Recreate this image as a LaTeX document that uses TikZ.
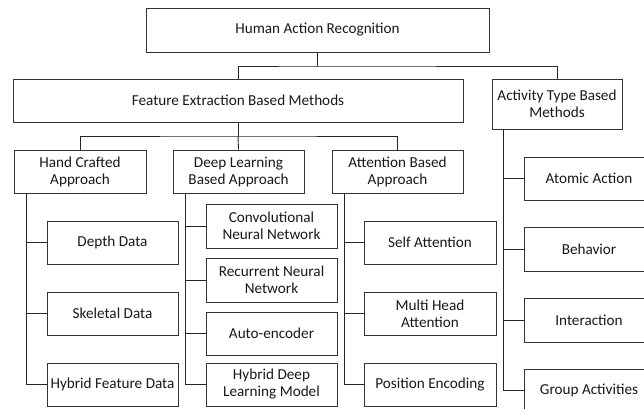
\documentclass[tikz,border=0pt]{standalone}
\usepackage{fontspec}
\setmainfont{Carlito}
\begin{document}
\begin{tikzpicture}[x=1pt,y=-1pt,
  box/.style={draw=black!80, line width=0.9pt, text=black!90, align=center,
    inner sep=0pt, font=\fontsize{15.2}{17}\selectfont},
  conn/.style={draw=black!85, line width=0.9pt}]
\useasboundingbox (0,0) rectangle (644,408);
\clip (0,0) rectangle (644,408);
\fill[white] (0,0) rectangle (644,408);
% level 0
\node[box, minimum width=343pt, minimum height=44pt] (har) at (317.5,30) {Human Action Recognition};
% level 1
\node[box, minimum width=450pt, minimum height=43pt] (fe) at (238,100.5) {Feature Extraction Based Methods};
\node[box, minimum width=130pt, minimum height=50pt] (at) at (557,104) {Activity Type Based\\Methods};
% level 2
\node[box, minimum width=132pt, minimum height=43pt] (hc) at (80,171.5) {Hand Crafted\\Approach};
\node[box, minimum width=131pt, minimum height=43pt] (dl) at (238.5,171.5) {Deep Learning\\Based Approach};
\node[box, minimum width=131pt, minimum height=43pt] (ab) at (397.5,171.5) {Attention Based\\Approach};
% hand crafted children
\node[box, minimum width=131pt, minimum height=43pt] (depth) at (112.5,242.5) {Depth Data};
\node[box, minimum width=131pt, minimum height=43pt] (skel) at (112.5,313.5) {Skeletal Data};
\node[box, minimum width=131pt, minimum height=43pt] (hfd) at (112.5,384.5) {Hybrid Feature Data};
% deep learning children
\node[box, minimum width=131pt, minimum height=44pt] (cnn) at (271.5,226) {Convolutional\\Neural Network};
\node[box, minimum width=131pt, minimum height=44pt] (rnn) at (271.5,280) {Recurrent Neural\\Network};
\node[box, minimum width=131pt, minimum height=43pt] (ae) at (271.5,333.5) {Auto-encoder};
\node[box, minimum width=131pt, minimum height=43pt] (hdl) at (271.5,384.5) {Hybrid Deep\\Learning Model};
% attention children
\node[box, minimum width=132pt, minimum height=43pt] (self) at (430,242.5) {Self Attention};
\node[box, minimum width=132pt, minimum height=43pt] (mha) at (430,313.5) {Multi Head\\Attention};
\node[box, minimum width=132pt, minimum height=43pt] (pe) at (430,384.5) {Position Encoding};
% activity children
\node[box, minimum width=130pt, minimum height=43pt] (atom) at (589,178.5) {Atomic Action};
\node[box, minimum width=130pt, minimum height=44pt] (beh) at (589,249) {Behavior};
\node[box, minimum width=130pt, minimum height=44pt] (inter) at (589,320) {Interaction};
\node[box, minimum width=130pt, minimum height=43pt] (grp) at (589,390.5) {Group Activities};
% connectors
\coordinate (j1) at (317.5,66);
\coordinate (j2) at (238,136);
\draw[conn] (har.south) -- (j1);
\draw[conn] (fe.north) |- (j1) -| (at.north);
\draw[conn] (fe.south) -- (j2);
\draw[conn] (hc.north) |- (j2) -| (ab.north);
\draw[conn] (j2) -- (dl.north);
\coordinate (hcs) at ([xshift=13pt]hc.south west);
\coordinate (dls) at ([xshift=13pt]dl.south west);
\coordinate (abs) at ([xshift=13pt]ab.south west);
\coordinate (ats) at ([xshift=12pt]at.south west);
\draw[conn] (hcs) |- (hfd.west);
\draw[conn] (hcs) |- (depth.west);
\draw[conn] (hcs) |- (skel.west);
\draw[conn] (dls) |- (hdl.west);
\draw[conn] (dls) |- (cnn.west);
\draw[conn] (dls) |- (rnn.west);
\draw[conn] (dls) |- (ae.west);
\draw[conn] (abs) |- (pe.west);
\draw[conn] (abs) |- (self.west);
\draw[conn] (abs) |- (mha.west);
\draw[conn] (ats) |- (grp.west);
\draw[conn] (ats) |- (atom.west);
\draw[conn] (ats) |- (beh.west);
\draw[conn] (ats) |- (inter.west);
\end{tikzpicture}
\end{document}
